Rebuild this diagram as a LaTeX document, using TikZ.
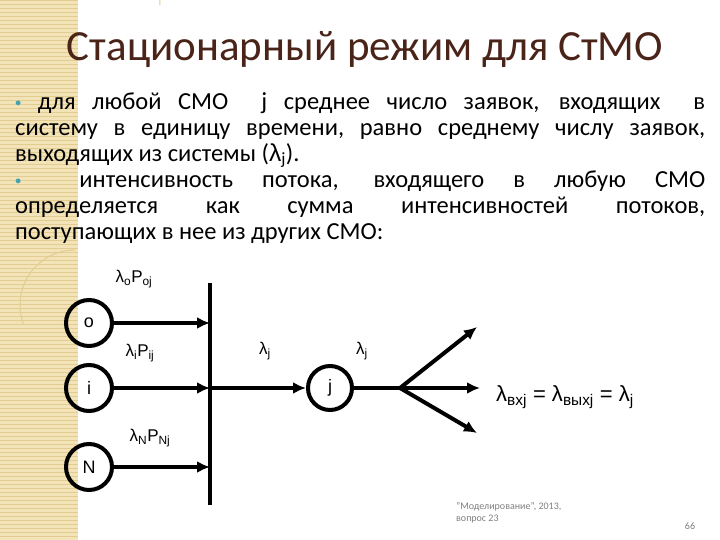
\documentclass[tikz,border=0pt]{standalone}
\usepackage{fontspec}
\setmainfont{Carlito}
\newfontfamily\arial{Liberation Sans}
\usetikzlibrary{arrows.meta}
\definecolor{titlec}{HTML}{4A2418}
\definecolor{stripc}{HTML}{F3E3B8}
\definecolor{stripl}{HTML}{E2CC90}
\definecolor{bulc}{HTML}{3FA3B0}
\newcommand{\bul}{{\color{bulc}\raisebox{0.12em}{\scalebox{0.5}{$\bullet$}}}}
\newcommand{\lam}{{\arial λ}}
\begin{document}
\begin{tikzpicture}[x=1pt,y=-1pt,
  qs/.style={circle,draw,line width=4pt,minimum size=46pt,inner sep=0pt,font=\arial\fontsize{18}{18}\selectfont},
  flow/.style={line width=4pt,-{Latex[length=13pt,width=12pt]}},
  lbl/.style={font=\arial\fontsize{17}{17}\selectfont,inner sep=0pt}]
\useasboundingbox (0,0) rectangle (720,540);
\fill[white] (0,0) rectangle (720,540);
\fill[stripc] (0,0) rectangle (78,540);
\foreach \k in {0,4,...,540} \draw[stripl,line width=0.8pt] (0,\k) -- (78,\k);
\draw[stripl,line width=1pt] (160,5) arc (0:-90:90);
\draw[stripl,line width=1pt] (75,250) arc (-90:-200:55);
% title
\node[titlec,font=\fontsize{43}{43}\selectfont,inner sep=0pt] (title) at (365,50) {Стационарный режим для СтМО};
% body
\node[anchor=north west,inner sep=0pt,text width=690pt,align=justify,font=\fontsize{24.5}{26}\selectfont] (body) at (15,92) {%
\bul\ для любой СМО\ \ j среднее число заявок, входящих\ \ в\linebreak систему в единицу времени,\ равно среднему числу заявок,\linebreak выходящих из\ системы (\lam\textsubscript{j}).\par
\bul\ \ интенсивность потока, входящего в любую СМО\linebreak определяется как сумма интенсивностей потоков,\linebreak поступающих в нее из других СМО:\par};
% diagram
\node[qs] (o) at (89,323) {o};
\node[qs] (i) at (89,388) {i};
\node[qs] (N) at (89,467) {N};
\coordinate (bt) at (210,283);
\coordinate (bb) at (210,505);
\draw[line width=4pt] (bt) -- (bb);
\coordinate (bo) at (210,323);
\coordinate (bi) at (210,388);
\coordinate (bn) at (210,467);
\draw[flow] (o) -- (bo);
\draw[flow] (i) -- (bi);
\draw[flow] (N) -- (bn);
\node[qs,minimum size=44pt] (j) at (330,388) {j};
\draw[flow] (bi) -- (j);
\coordinate (br) at (400,388);
\coordinate (e1) at (477,327);
\coordinate (e2) at (480,388);
\coordinate (e3) at (477,433);
\draw[line width=4pt] (j) -- (br);
\draw[flow] (br) -- (e1);
\draw[flow] (br) -- (e2);
\draw[flow] (br) -- (e3);
\node[lbl] (l1) at (134,279) {\lam\textsubscript{o}P\textsubscript{oj}};
\node[lbl] (l2) at (140,353) {\lam\textsubscript{i}P\textsubscript{ij}};
\node[lbl] (l3) at (265,351) {\lam\textsubscript{j}};
\node[lbl] (l4) at (362,351) {\lam\textsubscript{j}};
\node[lbl] (l5) at (150,438) {\lam\textsubscript{N}P\textsubscript{Nj}};
\node[lbl,font=\arial\fontsize{22}{22}\selectfont] (eq) at (565,397) {\lam\textsubscript{вхj} = \lam\textsubscript{выхj} = \lam\textsubscript{j}};
\node[anchor=north west,gray,font=\fontsize{10}{12}\selectfont,align=left,inner sep=0pt] (foot) at (456,502) {"Моделирование", 2013,\\ вопрос 23};
\node[gray,font=\fontsize{10}{10}\selectfont,inner sep=0pt] (pg) at (690,526) {66};
\end{tikzpicture}
\end{document}
